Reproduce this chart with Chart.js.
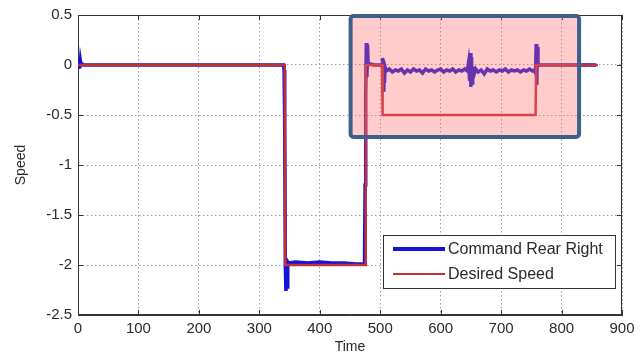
<!DOCTYPE html>
<html>
<head>
<meta charset="utf-8">
<script src="https://cdn.jsdelivr.net/npm/chart.js@4"></script>
<style>
  html, body { margin: 0; padding: 0; background: #fff; }
</style>
</head>
<body>
<canvas id="speed-chart" width="642" height="359"></canvas>
<script>
// commanded speed for the rear right wheel
const commandTime = [0, 1, 2, 3, 4, 5, 7, 10, 60, 120, 200, 280, 340, 341, 342, 343, 344, 345, 346, 347, 348,
    360, 380, 400, 420, 440, 460, 472, 474, 475, 476, 477, 478, 479, 480, 484, 490, 500, 503, 504, 505, 506, 507, 508,
    510, 515, 520, 525, 530, 535, 540, 545, 550, 555, 560, 565, 570, 575, 580, 585, 590, 595, 600, 605, 610, 615,
    620, 625, 630, 635, 640, 644, 646, 648, 649, 650, 651, 652, 653, 655, 658, 662, 667, 672, 677, 682, 687, 692,
    697, 702, 707, 712, 717, 722, 727, 732, 737, 742, 747, 752, 755, 757, 758, 759, 760, 761, 762, 764, 770, 800,
    830, 857];
const commandSpeed = [0.06, -0.04, 0.07, -0.03, 0.04, 0, 0.01, 0, 0, 0, 0, 0, 0, -0.05, -0.6, -1.99, -2.26, -1.96, -2.22, -1.97, -1.98,
    -1.97, -1.98, -1.97, -1.98, -1.98, -1.99, -1.99, -1.98, -1.2, -0.3, 0.22, -0.12, 0.2, 0, 0.01, 0, 0, 0.01, 0.07, -0.25, 0.04, -0.18, -0.02,
    -0.06, -0.04, -0.07, -0.05, -0.06, -0.04, -0.08, -0.05, -0.07, -0.04, -0.06, -0.05, -0.08, -0.04, -0.06, -0.05, -0.07, -0.05, -0.04, -0.07, -0.05, -0.06,
    -0.04, -0.07, -0.05, -0.06, -0.04, -0.06, 0.02, -0.16, 0.12, -0.22, 0.08, -0.18, -0.02, -0.1, -0.04, -0.07, -0.05, -0.09, -0.04, -0.06, -0.05, -0.07,
    -0.05, -0.06, -0.04, -0.07, -0.05, -0.06, -0.05, -0.07, -0.05, -0.06, -0.04, -0.06, -0.05, -0.08, 0.21, -0.2, 0.18, -0.02, 0.01, 0, 0, 0,
    0, 0];

// desired speed (step profile)
const desiredTime = [0, 342, 343, 475, 476, 503, 504, 757, 758, 860];
const desiredSpeed = [0, 0, -2, -2, 0, 0, -0.5, -0.5, 0, 0];

const xTicks = [0, 100, 200, 300, 400, 500, 600, 700, 800, 900];
const yTicks = [-2.5, -2, -1.5, -1, -0.5, 0, 0.5];
const seriesNames = ['Command Rear Right', 'Desired Speed'];

// shaded region around the second manoeuvre
const boxTime = [451, 829];
const boxSpeed = [-0.72, 0.49];

const toPoints = (xs, ys) => xs.map((t, i) => ({ x: t, y: ys[i] }));

Chart.defaults.font.family = '"Liberation Sans", Arial, sans-serif';
Chart.defaults.color = '#2a2a2a';

// box around the plot with inward tick marks
const frame = {
    id: 'frame',
    beforeDatasetsDraw(chart) {
        const { ctx, chartArea: a, scales } = chart;
        ctx.save();
        ctx.strokeStyle = '#333';
        ctx.lineWidth = 1;
        ctx.strokeRect(a.left + 0.5, a.top + 0.5, a.width - 1, a.height - 1);
        ctx.beginPath();
        xTicks.forEach(v => {
            const px = Math.round(scales.x.getPixelForValue(v)) + 0.5;
            ctx.moveTo(px, a.bottom); ctx.lineTo(px, a.bottom - 5);
            ctx.moveTo(px, a.top); ctx.lineTo(px, a.top + 5);
        });
        yTicks.forEach(v => {
            const py = Math.round(scales.y.getPixelForValue(v)) + 0.5;
            ctx.moveTo(a.left, py); ctx.lineTo(a.left + 5, py);
            ctx.moveTo(a.right, py); ctx.lineTo(a.right - 5, py);
        });
        ctx.stroke();
        ctx.restore();
    }
};

const highlight = {
    id: 'highlight',
    afterDatasetsDraw(chart) {
        const { ctx, scales: { x, y } } = chart;
        const l = x.getPixelForValue(boxTime[0]), r = x.getPixelForValue(boxTime[1]);
        const t = y.getPixelForValue(boxSpeed[1]), b = y.getPixelForValue(boxSpeed[0]);
        ctx.save();
        ctx.beginPath();
        ctx.roundRect(l, t, r - l, b - t, 3);
        ctx.fillStyle = 'rgba(255, 105, 105, 0.35)';
        ctx.fill();
        ctx.lineWidth = 4;
        ctx.strokeStyle = '#3c5f8c';
        ctx.stroke();
        ctx.restore();
    }
};

// legend box in the lower right corner of the plot
const boxLegend = {
    id: 'boxLegend',
    afterDraw(chart) {
        const { ctx, chartArea: a } = chart;
        const w = 232, h = 53;
        const left = a.right - 7 - w, top = a.bottom - 27 - h;
        ctx.save();
        ctx.fillStyle = '#fff';
        ctx.fillRect(left, top, w, h);
        ctx.strokeStyle = '#333';
        ctx.lineWidth = 1;
        ctx.strokeRect(left + 0.5, top + 0.5, w, h);
        chart.data.datasets.forEach((ds, i) => {
            const ly = top + 14 + i * 25;
            ctx.beginPath();
            ctx.moveTo(left + 10, ly);
            ctx.lineTo(left + 62, ly);
            ctx.strokeStyle = ds.borderColor;
            ctx.lineWidth = i === 0 ? 4 : 2;
            ctx.stroke();
            ctx.fillStyle = '#2a2a2a';
            ctx.font = '16px "Liberation Sans", Arial, sans-serif';
            ctx.textBaseline = 'middle';
            ctx.fillText(seriesNames[i], left + 65, ly + 1);
        });
        ctx.restore();
    }
};

new Chart(document.getElementById('speed-chart'), {
    type: 'line',
    data: {
        datasets: [{
            label: seriesNames[0],
            data: toPoints(commandTime, commandSpeed),
            borderColor: '#1414d6',
            borderWidth: 3.5,
            order: 1
        }, {
            label: seriesNames[1],
            data: toPoints(desiredTime, desiredSpeed),
            borderColor: '#c4303a',
            borderWidth: 2.5,
            order: 0
        }]
    },
    options: {
        responsive: false,
        animation: false,
        devicePixelRatio: 1,
        layout: { padding: { left: 0, top: 15, right: 20, bottom: 0 } },
        elements: { point: { radius: 0 }, line: { tension: 0 } },
        plugins: { legend: { display: false }, tooltip: { enabled: false } },
        scales: {
            x: {
                type: 'linear',
                min: 0,
                max: 900,
                afterFit(s) { s.height = 44; },
                ticks: { stepSize: 100, font: { size: 15 }, padding: 5, maxRotation: 0 },
                grid: { color: '#9a9a9a', drawTicks: false },
                border: { color: '#333', dash: [1.5, 2.5] },
                title: { display: true, text: 'Time', font: { size: 14 }, padding: { top: 0, bottom: 3 } }
            },
            y: {
                min: -2.5,
                max: 0.5,
                afterFit(s) { s.width = 78; },
                ticks: { stepSize: 0.5, font: { size: 15 }, padding: 6, callback: v => String(v) },
                grid: { color: '#9a9a9a', drawTicks: false },
                border: { color: '#333', dash: [1.5, 2.5] },
                title: { display: true, text: 'Speed', font: { size: 14 }, padding: { top: 13, bottom: 0 } }
            }
        }
    },
    plugins: [frame, highlight, boxLegend]
});
</script>
</body>
</html>
